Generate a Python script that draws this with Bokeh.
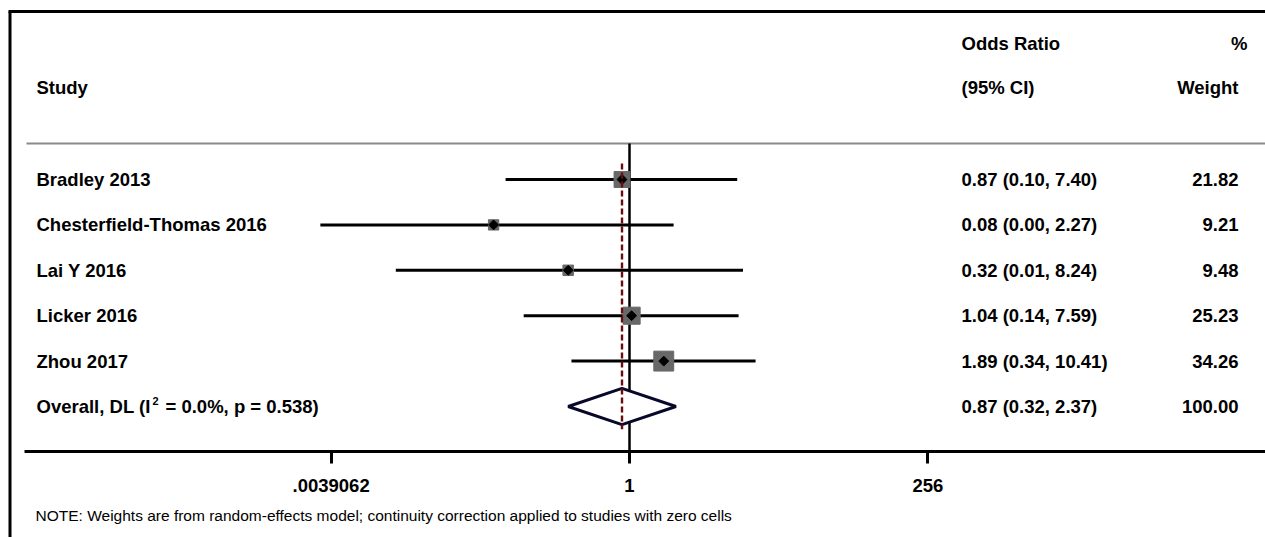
import math

from bokeh.plotting import figure
from bokeh.models import Range1d, LogAxis, FixedTicker, CustomJSTickFormatter
from bokeh.core.properties import value
from bokeh.embed import file_html
from bokeh.resources import INLINE

# ---- study data -----------------------------------------------------------
studies = ["Bradley 2013", "Chesterfield-Thomas 2016", "Lai Y 2016",
           "Licker 2016", "Zhou 2017"]
odds_ratio = [0.87, 0.08, 0.32, 1.04, 1.89]
ci_low = [0.10, 0.0032, 0.013, 0.14, 0.34]
ci_high = [7.40, 2.27, 8.24, 7.59, 10.41]
weights = [21.82, 9.21, 9.48, 25.23, 34.26]

# pooled (DerSimonian-Laird) result; the label carries a superscript "2"
overall_prefix = "Overall, DL (I"
overall_sup = "2"
overall_suffix = " = 0.0%, p = 0.538)"
overall_or = 0.87
overall_low = 0.32
overall_high = 2.37
overall_weight = 100.00

tick_values = [1 / 256, 1, 256]
tick_labels = [".0039062", "1", "256"]

note_text = ("NOTE: Weights are from random-effects model; "
             "continuity correction applied to studies with zero cells")

# ---- layout helpers (pixel positions -> data coordinates) -----------------
W, H = 1265, 537
X_ONE = 629.0          # pixel column of OR = 1
PX_PER_LOG2 = 37.3     # pixels per doubling of the odds ratio
ROW0 = 179.0           # pixel row of the first study
ROW_STEP = 45.4        # pixels between rows


def to_x(px):
    return 2 ** ((px - X_ONE) / PX_PER_LOG2)


def to_y(py):
    return (py - ROW0) / ROW_STEP


FONT_NAME = "Liberation Sans"
FONT = value(FONT_NAME)
FONT_SIZE = "18.5px"
BLACK = "#000000"

p = figure(width=W, height=H, output_backend="svg", toolbar_location=None,
           x_axis_type="log", x_axis_location=None, y_axis_location=None,
           x_range=Range1d(to_x(0), to_x(W)),
           y_range=Range1d(to_y(H), to_y(0)),
           min_border=0, min_border_left=0, min_border_right=0,
           min_border_top=0, min_border_bottom=0)
p.outline_line_color = None
p.xgrid.visible = False
p.ygrid.visible = False
p.background_fill_color = "white"
p.border_fill_color = "white"

n = len(studies)
rows = list(range(n))
overall_row = n

# outer frame (top and left edges)
p.segment(x0=[to_x(8), to_x(9.5)], y0=[to_y(11), to_y(11)],
          x1=[to_x(W + 5), to_x(9.5)], y1=[to_y(11), to_y(H + 5)],
          line_color=BLACK, line_width=3)

# header separator
p.segment(x0=[to_x(26)], y0=[to_y(143)], x1=[to_x(W + 5)], y1=[to_y(143)],
          line_color="#8a8a8a", line_width=2)

# null line at OR = 1
p.segment(x0=[1], y0=[to_y(143)], x1=[1], y1=[to_y(451)],
          line_color=BLACK, line_width=2.5)

# confidence intervals
p.segment(x0=ci_low, y0=rows, x1=ci_high, y1=rows,
          line_color=BLACK, line_width=3)

# weight boxes (area proportional to weight)
box_size = [3.4 * w ** 0.5 for w in weights]
p.scatter(x=odds_ratio, y=rows, size=box_size, marker="square",
          fill_color="#686868", line_color="#686868", line_width=1)

# point estimates (small rotated squares)
p.scatter(x=odds_ratio, y=rows, size=7, marker="square", angle=math.pi / 4,
          fill_color=BLACK, line_color=BLACK, line_width=1)

# pooled estimate diamond
half_h = 0.4
p.patch(x=[overall_low, overall_or, overall_high, overall_or],
        y=[overall_row, overall_row - half_h, overall_row, overall_row + half_h],
        fill_color="white", line_color="#08082a", line_width=3)

# pooled estimate reference line
p.segment(x0=[overall_or], y0=[to_y(163)], x1=[overall_or],
          y1=[overall_row + half_h + 0.1],
          line_color="#6a0c0c", line_width=2.4, line_dash="6 3")

# ---- text columns ----------------------------------------------------------
text_kw = dict(text_font=FONT, text_font_style="bold", text_font_size=FONT_SIZE,
               text_baseline="middle", text_color=BLACK)

or_text = [f"{o:.2f} ({l:.2f}, {h:.2f})"
           for o, l, h in zip(odds_ratio + [overall_or],
                              ci_low + [overall_low],
                              ci_high + [overall_high])]
wt_text = [f"{w:.2f}" for w in weights + [overall_weight]]
all_rows = rows + [overall_row]

label_x = to_x(36)
p.text(x=[label_x] * n, y=rows, text=studies, text_align="left", **text_kw)

# pooled row label: prefix, raised small "2", suffix
p.text(x=[label_x], y=[overall_row], text=[overall_prefix],
       text_align="left", **text_kw)
p.text(x=[label_x], y=[overall_row], text=[overall_sup], x_offset=116,
       y_offset=-6, text_align="left", text_font=FONT, text_font_style="bold",
       text_font_size="11px", text_baseline="middle", text_color=BLACK)
p.text(x=[label_x], y=[overall_row], text=[overall_suffix], x_offset=129,
       text_align="left", **text_kw)

p.text(x=[to_x(961)] * len(or_text), y=all_rows, text=or_text,
       text_align="left", **text_kw)
p.text(x=[to_x(1238)] * len(wt_text), y=all_rows, text=wt_text,
       text_align="right", **text_kw)

# headers
p.text(x=[label_x], y=[to_y(87)], text=["Study"], text_align="left", **text_kw)
p.text(x=[to_x(961), to_x(961)], y=[to_y(43), to_y(87)],
       text=["Odds Ratio", "(95% CI)"], text_align="left", **text_kw)
p.text(x=[to_x(1247), to_x(1238)], y=[to_y(43), to_y(87)],
       text=["%", "Weight"], text_align="right", **text_kw)

# footnote
p.text(x=[to_x(35)], y=[to_y(515)], text=[note_text], text_align="left",
       text_font=FONT, text_font_size="15.5px", text_baseline="middle",
       text_color=BLACK)

# ---- odds-ratio axis -------------------------------------------------------
axis = LogAxis(
    ticker=FixedTicker(ticks=tick_values, minor_ticks=[]),
    formatter=CustomJSTickFormatter(args=dict(labels=tick_labels),
                                    code="return labels[index];"),
    fixed_location=to_y(451),
    bounds=(to_x(24), to_x(W + 5)),
    axis_line_color=BLACK, axis_line_width=3,
    major_tick_line_color=BLACK, major_tick_line_width=3,
    major_tick_in=0, major_tick_out=12,
    minor_tick_in=0, minor_tick_out=0,
    major_label_standoff=15,
    major_label_text_font=FONT_NAME, major_label_text_font_style="bold",
    major_label_text_font_size=FONT_SIZE, major_label_text_color=BLACK,
)
p.add_layout(axis, "below")

open("out.html", "w").write(file_html(p, INLINE))
